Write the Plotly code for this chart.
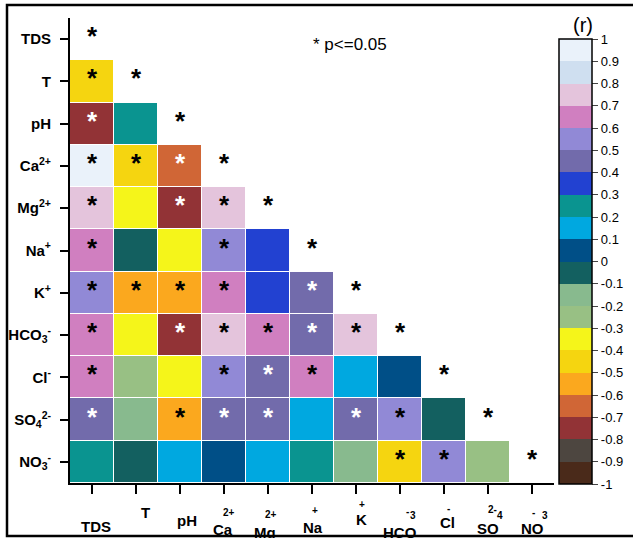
import plotly.graph_objects as go
import numpy as np

# ---------------- data ----------------
variables = ["TDS", "T", "pH", "Ca2+", "Mg2+", "Na+", "K+", "HCO3-", "Cl-", "SO42-", "NO3-"]
y_tick_text = ["TDS", "T", "pH", "Ca<sup>2+</sup>", "Mg<sup>2+</sup>", "Na<sup>+</sup>", "K<sup>+</sup>",
               "HCO<sub>3</sub><sup>-</sup>", "Cl<sup>-</sup>", "SO<sub>4</sub><sup>2-</sup>",
               "NO<sub>3</sub><sup>-</sup>"]
x_label_main = ["TDS", "T", "pH", "Ca", "Mg", "Na", "K", "HCO", "Cl", "SO", "NO"]
x_label_marks = [[], [], [], ["2+"], ["2+"], ["+"], ["+"], ["-", "3"], ["-"], ["2-", "4"], ["-", "3"]]

# lower triangle correlation coefficients (row i, columns 0..i-1)
r_lower = [
    [],
    [-0.45],
    [-0.75, 0.25],
    [0.95, -0.45, -0.65],
    [0.75, -0.35, -0.75, 0.75],
    [0.65, -0.05, -0.35, 0.55, 0.35],
    [0.55, -0.55, -0.55, 0.65, 0.35, 0.45],
    [0.65, -0.35, -0.75, 0.75, 0.65, 0.45, 0.75],
    [0.65, -0.25, -0.35, 0.55, 0.45, 0.65, 0.15, 0.05],
    [0.45, -0.15, -0.55, 0.45, 0.45, 0.15, 0.45, 0.55, -0.05],
    [0.25, -0.05, 0.15, 0.05, 0.15, 0.25, -0.15, -0.45, 0.55, -0.25],
]
# significance (p <= 0.05), same shape
sig_lower = [
    [],
    [1],
    [1, 0],
    [1, 1, 1],
    [1, 0, 1, 1],
    [1, 0, 0, 1, 0],
    [1, 1, 1, 1, 0, 1],
    [1, 0, 1, 1, 1, 1, 1],
    [1, 0, 0, 1, 1, 1, 0, 0],
    [1, 0, 1, 1, 1, 0, 1, 1, 0],
    [0, 0, 0, 0, 0, 0, 0, 1, 1, 0],
]
cbar_tickvals = [round(-1 + 0.1 * k, 1) for k in range(21)]
cbar_ticktext = ["-1", "-0.9", "-0.8", "-0.7", "-0.6", "-0.5", "-0.4", "-0.3", "-0.2", "-0.1", "0",
                 "0.1", "0.2", "0.3", "0.4", "0.5", "0.6", "0.7", "0.8", "0.9", "1"]

# ---------------- styles ----------------
bin_colors = ["#4A2A1A", "#4D4640", "#923336", "#D06636", "#FBA81E", "#F5D510", "#F5F51A",
              "#98C084", "#88BA8E", "#136060", "#004F87", "#00A8E0", "#0A9490", "#2241D1",
              "#726BAB", "#9189D6", "#D07FC0", "#E4C4DC", "#CFDFF0", "#EAF2FA"]
FONT = "Liberation Sans, Arial, sans-serif"

n = len(variables)
nb = len(bin_colors)
colorscale = []
for k, c in enumerate(bin_colors):
    colorscale.append([k / nb, c])
    colorscale.append([(k + 1) / nb, c])

z = np.full((n, n), np.nan)
for i, row in enumerate(r_lower):
    for j, v in enumerate(row):
        z[i, j] = v


def bin_color(v):
    k = min(int((v + 1) / 2 * nb), nb - 1)
    return bin_colors[k]


def lum(hexc):
    h = hexc.lstrip("#")
    r, g, b = int(h[0:2], 16), int(h[2:4], 16), int(h[4:6], 16)
    return 0.299 * r + 0.587 * g + 0.114 * b


fig = go.Figure()
fig.add_trace(go.Heatmap(
    z=z, x=list(range(n)), y=list(range(n)),
    zmin=-1, zmax=1, colorscale=colorscale,
    xgap=1, ygap=1, hoverongaps=False,
    colorbar=dict(
        x=(559 - 70) / 484, xanchor="left", xpad=0,
        y=(483 - 484) / 465, yanchor="bottom", ypad=0,
        lenmode="pixels", len=445, thickness=33,
        outlinecolor="black", outlinewidth=1.5,
        tickvals=cbar_tickvals, ticktext=cbar_ticktext,
        ticks="outside", ticklen=6, tickwidth=1, tickcolor="#444",
        tickfont=dict(family=FONT, size=13, color="black"),
    ),
))

annotations = []
# significance stars
for i in range(n):
    for j in range(i + 1):
        if i == j:
            show, col = True, "black"
        else:
            show = sig_lower[i][j] == 1
            col = "white" if lum(bin_color(r_lower[i][j])) < 140 else "black"
        if show:
            annotations.append(dict(x=j, y=i, xref="x", yref="y", text="*", showarrow=False,
                                    font=dict(family=FONT, size=26, color=col, weight="bold"),
                                    xanchor="center", yanchor="middle", yshift=3))

# x-axis labels (offsets in px relative to tick position / axis line)
main_offsets = [(4, 43), (9, 29), (7, 37), (-1, 46), (-3, 49), (1, 44), (5, 36), (0, 49), (3, 39), (0, 45), (0, 45)]
mark_offsets = [[], [], [], [(5, 29)], [(3, 31)], [(3, 27)], [(6, 21)], [(7, 28), (13, 32)],
                [(4, 25)], [(4, 26), (12, 32)], [(1, 29), (13, 32)]]
for i in range(n):
    dx, dy = main_offsets[i]
    annotations.append(dict(x=i, y=0, xref="x", yref="paper", text=x_label_main[i], showarrow=False,
                            xanchor="center", yanchor="middle", xshift=dx, yshift=-dy,
                            font=dict(family=FONT, size=15, color="black", weight="bold")))
    for txt, (mdx, mdy) in zip(x_label_marks[i], mark_offsets[i]):
        annotations.append(dict(x=i, y=0, xref="x", yref="paper", text=txt, showarrow=False,
                                xanchor="center", yanchor="middle", xshift=mdx, yshift=-mdy,
                                font=dict(family=FONT, size=10, color="black", weight="bold")))

# legend note and colorbar title
annotations.append(dict(x=(311 - 70) / 484, y=(483 - 44) / 465, xref="paper", yref="paper",
                        text="* p<=0.05", showarrow=False, xanchor="left", yanchor="middle",
                        font=dict(family=FONT, size=17, color="black")))
annotations.append(dict(x=(583 - 70) / 484, y=(483 - 25) / 465, xref="paper", yref="paper",
                        text="(r)", showarrow=False, xanchor="center", yanchor="middle",
                        font=dict(family=FONT, size=20, color="black")))

shapes = [dict(type="rect", xref="paper", yref="paper",
               x0=(7 - 70) / 484, x1=(650 - 70) / 484, y0=(483 - 536) / 465, y1=(483 - 5) / 465,
               line=dict(color="black", width=2.5), fillcolor="rgba(0,0,0,0)", layer="above")]

fig.update_layout(
    width=633, height=538,
    margin=dict(l=70, r=79, t=18, b=55, autoexpand=False),
    paper_bgcolor="white", plot_bgcolor="white",
    annotations=annotations, shapes=shapes,
    showlegend=False,
    xaxis=dict(range=[-0.5, n - 0.5], tickvals=list(range(n)), showticklabels=False,
               ticks="outside", ticklen=9, tickwidth=1.5, tickcolor="black", automargin=False,
               showline=True, linecolor="black", linewidth=2, showgrid=False, zeroline=False),
    yaxis=dict(range=[n - 0.5, -0.5], tickvals=list(range(n)), ticktext=y_tick_text,
               ticks="outside", ticklen=8, tickwidth=1.5, tickcolor="black", automargin=False,
               ticklabelstandoff=6,
               tickfont=dict(family=FONT, size=15, color="black", weight="bold"),
               showline=True, linecolor="black", linewidth=2, showgrid=False, zeroline=False),
)

fig.write_html("out.html")
